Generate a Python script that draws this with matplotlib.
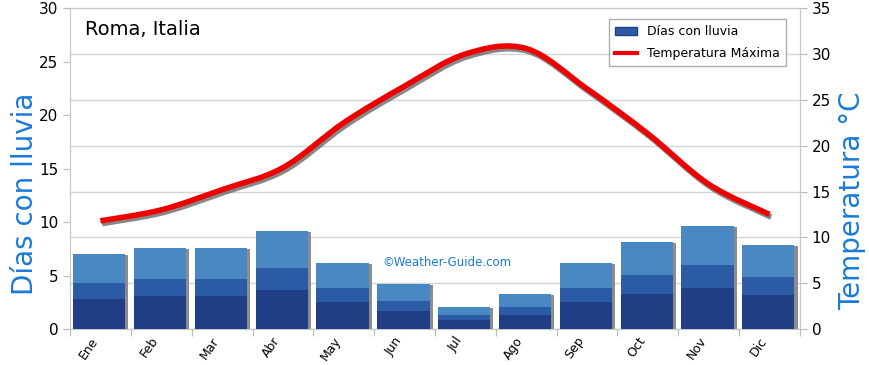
import numpy as np
import matplotlib
matplotlib.use("Agg")
import matplotlib.pyplot as plt
import matplotlib.patheffects as pe
from matplotlib.path import Path
from matplotlib.patches import PathPatch, Patch
from matplotlib.lines import Line2D

meses = ["Ene", "Feb", "Mar", "Abr", "May", "Jun", "Jul", "Ago", "Sep", "Oct", "Nov", "Dic"]
dias_lluvia = [7.0, 7.6, 7.6, 9.2, 6.2, 4.2, 2.1, 3.3, 6.2, 8.1, 9.6, 7.9]
temp_max = [11.8, 13.0, 15.2, 17.6, 22.5, 26.5, 30.0, 30.6, 26.2, 21.3, 15.8, 12.5]

plt.rcParams['font.family'] = ['DejaVu Sans']
fig = plt.figure(figsize=(8.7, 3.65), dpi=100)
ax = fig.add_axes([0.0805, 0.0986, 0.839, 0.879])
ax2 = ax.twinx()

x = np.arange(len(meses))
h = np.array(dias_lluvia)
w = 0.86
off = -0.02

# shadow behind bars
ax.bar(x + off + 0.05, h - 0.1, width=w, bottom=0, color="#8c8c8c", zorder=2)
# three-shade bars
ax.bar(x + off, h, width=w, color="#4a88c3", zorder=3, linewidth=0)
ax.bar(x + off, h * 0.62, width=w, color="#2c5ba6", zorder=3, linewidth=0)
ax.bar(x + off, h * 0.40, width=w, color="#1f3e86", zorder=3, linewidth=0)

ax.set_xlim(-0.5, 11.5)
ax.set_ylim(0, 30)
ax.set_yticks(range(0, 31, 5))
ax.set_xticks(np.arange(-0.5, 12, 1), minor=False)
ax.set_xticklabels([])
ax.set_xticks(x, minor=True)
ax.set_xticklabels(meses, minor=True, rotation=55, ha="right", va="top", fontsize=9)
ax.tick_params(axis="x", which="minor", length=0, pad=4)
ax.tick_params(axis="x", which="major", length=5, color="#bbbbbb")
ax.tick_params(axis="y", length=5, color="#bbbbbb", labelsize=11)
ax.set_ylabel("Días con lluvia", color="#1a7ad8", fontsize=20)
ax.yaxis.set_label_coords(-0.042, 0.42)

ax2.set_ylim(0, 35)
ax2.set_yticks(range(0, 36, 5))
ax2.tick_params(axis="y", length=5, color="#bbbbbb", labelsize=11)
ax2.set_ylabel("Temperatura °C", color="#1a7ad8", fontsize=20)
ax2.yaxis.set_label_coords(1.052, 0.40)
ax2.grid(axis="y", color="#d4d4d4", linewidth=1, zorder=0)
ax2.set_axisbelow(True)

for a in (ax, ax2):
    for s in a.spines.values():
        s.set_color("#c8c8c8")

ax.set_zorder(2)
ax2.set_zorder(1)
ax.patch.set_visible(False)

# smooth temperature line (Catmull-Rom -> cubic Bezier)
px = x.astype(float)
py = np.array(temp_max)
verts = [(px[0], py[0])]
codes = [Path.MOVETO]
for i in range(len(px) - 1):
    p0 = (px[max(i - 1, 0)], py[max(i - 1, 0)])
    p1 = (px[i], py[i])
    p2 = (px[i + 1], py[i + 1])
    p3 = (px[min(i + 2, len(px) - 1)], py[min(i + 2, len(px) - 1)])
    c1 = (p1[0] + (p2[0] - p0[0]) / 6, p1[1] + (p2[1] - p0[1]) / 6)
    c2 = (p2[0] - (p3[0] - p1[0]) / 6, p2[1] - (p3[1] - p1[1]) / 6)
    verts += [c1, c2, p2]
    codes += [Path.CURVE4] * 3
line_ax = fig.add_axes(ax.get_position(), sharex=ax)
line_ax.set_ylim(0, 35)
line_ax.axis("off")
line_ax.set_zorder(3)
line_ax.patch.set_visible(False)
patch = PathPatch(Path(verts, codes), facecolor="none", edgecolor="#ee0000", lw=4,
                  capstyle="butt",
                  path_effects=[pe.SimpleLineShadow(offset=(1.2, -2.0), shadow_color="#555555", alpha=0.7),
                                pe.Normal()])
line_ax.add_patch(patch)

line_ax.text(0.02, 0.935, "Roma, Italia", transform=line_ax.transAxes, fontsize=14, va="center", ha="left")
line_ax.text(5.7, 6.2 * 35 / 30, "©Weather-Guide.com", color="#1a7ad8", fontsize=8.5,
             ha="center", va="center")

handles = [Patch(facecolor="#2c5ba6", edgecolor="#1f3e86"),
           Line2D([], [], color="#ee0000", lw=3)]
leg = line_ax.legend(handles, ["Días con lluvia", "Temperatura Máxima"], loc="upper right",
                     bbox_to_anchor=(0.99, 0.985), fontsize=9, frameon=True, fancybox=False,
                     edgecolor="#999999", handlelength=1.8, borderpad=0.5, labelspacing=0.7)

fig.savefig("out.png", dpi=100)
